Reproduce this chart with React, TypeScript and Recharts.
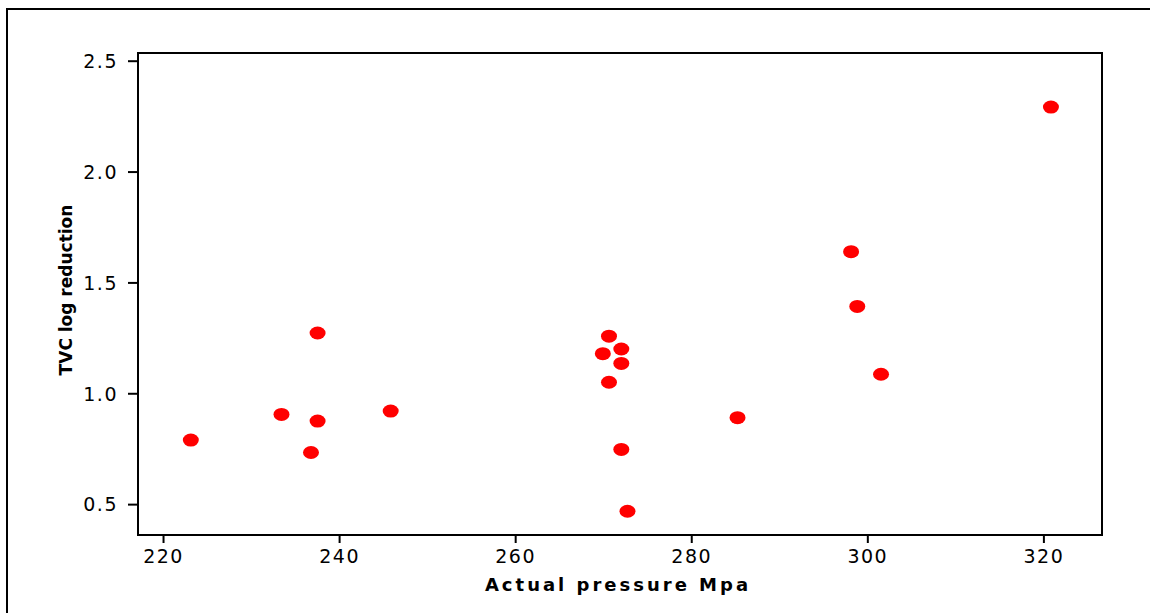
import React from 'react';
import { ScatterChart, Scatter, XAxis, YAxis, ReferenceArea } from 'recharts';

const pressure = [223.1, 233.4, 237.5, 236.75, 245.8, 237.5, 270.6, 272.0, 269.9, 272.0, 270.6, 272.0, 272.7, 285.2, 298.1, 298.8, 301.5, 320.8];
const logReduction = [0.791, 0.907, 0.877, 0.735, 0.922, 1.274, 1.26, 1.202, 1.181, 1.137, 1.052, 0.749, 0.47, 0.892, 1.641, 1.394, 1.088, 2.293];
const xTicks = [220, 240, 260, 280, 300, 320];
const yTicks = [0.5, 1.0, 1.5, 2.0, 2.5];
const xDomain = [217.1, 326.6];
const yDomain = [0.363, 2.537];

const data = pressure.map((p, i) => ({ x: p, y: logReduction[i] }));

const tickStyle = { fontFamily: '"DejaVu Sans", Verdana, sans-serif', fontSize: 19, fill: '#000', letterSpacing: 1.5 };

const Dot = (p: any) => <ellipse cx={p.cx} cy={p.cy} rx={8} ry={6.5} fill="#ff0000" />;

export default function App() {
  return (
    <div style={{ position: 'absolute', left: 0, top: 0, width: 1150, height: 613, overflow: 'hidden', background: '#fff' }}>
      <div style={{ position: 'absolute', left: 6, top: 8, width: 1300, height: 800, borderLeft: '2px solid #000', borderTop: '2px solid #000' }} />
      <div style={{ position: 'absolute', left: 0, top: 0 }}>
        <ScatterChart width={1150} height={613} margin={{ top: 53, right: 48, bottom: 0, left: 0 }}>
          <XAxis
            xAxisId="b"
            type="number"
            dataKey="x"
            domain={xDomain}
            ticks={xTicks}
            height={78}
            tickSize={8}
            tickMargin={7}
            axisLine={{ stroke: '#000', strokeWidth: 2 }}
            tickLine={{ stroke: '#000', strokeWidth: 2 }}
            tick={tickStyle}
            allowDataOverflow
            label={{
              content: (props: any) => (
                <text
                  x={props.viewBox.x + props.viewBox.width / 2 - 2}
                  y={props.viewBox.y + 56}
                  textAnchor="middle"
                  style={{ fontFamily: '"DejaVu Sans", Verdana, sans-serif', fontWeight: 'bold', fontSize: 18, letterSpacing: 3 }}
                  fill="#000"
                >
                  Actual pressure Mpa
                </text>
              ),
            }}
          />
          <YAxis
            yAxisId="l"
            type="number"
            dataKey="y"
            domain={yDomain}
            ticks={yTicks}
            width={138}
            tickSize={10}
            tickMargin={10}
            tickFormatter={(v: number) => v.toFixed(1)}
            axisLine={{ stroke: '#000', strokeWidth: 2 }}
            tickLine={{ stroke: '#000', strokeWidth: 2 }}
            tick={tickStyle}
            allowDataOverflow
            label={{
              content: (props: any) => {
                const cx = props.viewBox.x + 66;
                const cy = props.viewBox.y + props.viewBox.height / 2 - 4;
                return (
                  <text
                    x={cx}
                    y={cy}
                    transform={`rotate(-90 ${cx} ${cy})`}
                    textAnchor="middle"
                    dominantBaseline="central"
                    fontFamily='"DejaVu Sans", Verdana, sans-serif'
                    fontWeight="bold"
                    fontSize={17}
                    fill="#000"
                  >
                    TVC log reduction
                  </text>
                );
              },
            }}
          />
          <ReferenceArea
            xAxisId="b"
            yAxisId="l"
            x1={xDomain[0]}
            x2={xDomain[1]}
            y1={yDomain[0]}
            y2={yDomain[1]}
            fill="none"
            fillOpacity={0}
            stroke="#000"
            strokeWidth={2}
            strokeOpacity={1}
            ifOverflow="visible"
          />
          <Scatter data={data} xAxisId="b" yAxisId="l" shape={Dot} isAnimationActive={false} />
        </ScatterChart>
      </div>
    </div>
  );
}
